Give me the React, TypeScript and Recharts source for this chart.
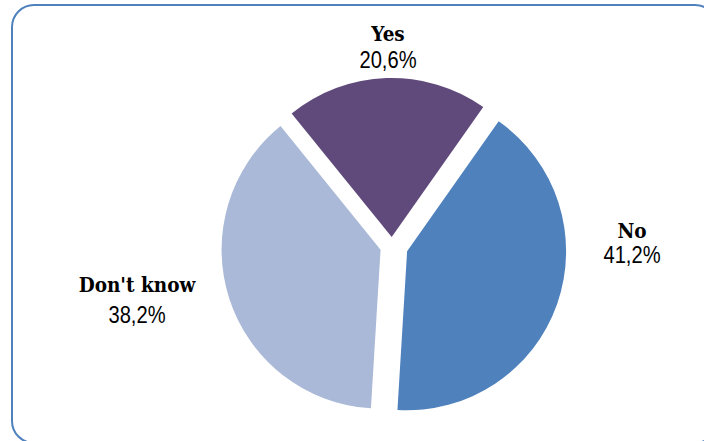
import React from "react";
import { PieChart, Pie, Cell, Sector } from "recharts";

const categories = ["Yes", "No", "Don't know"];
const shares = [20.6, 41.2, 38.2];
const colors = ["#604A7B", "#4F81BD", "#AAB9D7"];

const data = categories.map((name, i) => ({ name, value: shares[i] }));

// layout constants: label anchor relative to pie centre (x offset, name baseline offset, gap to percent line)
const LABEL_LAYOUT = [
  { dx: -4, dy: -205, gap: 27 },
  { dx: 240, dy: -8, gap: 25 },
  { dx: -255, dy: 46, gap: 31 },
];
// explosion distance per slice (px, along the slice bisector)
const EXPLODE = [9, 16, 12];
const RAD = Math.PI / 180;

const ExplodedSector = (props: any) => {
  const { cx, cy, midAngle, innerRadius, outerRadius, startAngle, endAngle, fill, index } = props;
  const e = EXPLODE[index ?? 0] ?? 12;
  const dx = e * Math.cos(-midAngle * RAD);
  const dy = e * Math.sin(-midAngle * RAD);
  return (
    <Sector
      cx={cx + dx}
      cy={cy + dy}
      innerRadius={innerRadius}
      outerRadius={outerRadius}
      startAngle={startAngle}
      endAngle={endAngle}
      fill={fill}
      stroke="none"
    />
  );
};

const renderLabel = (props: any) => {
  const { cx, cy, index, percent, name } = props;
  const lay = LABEL_LAYOUT[index];
  const x = cx + lay.dx;
  const y = cy + lay.dy;
  const pct = (percent * 100).toFixed(1).replace(".", ",") + "%";
  return (
    <g>
      <text
        x={x}
        y={y}
        textAnchor="middle"
        fill="#000"
        style={{
          fontFamily: "'DejaVu Serif Condensed', 'DejaVu Serif', serif",
          fontStretch: "condensed",
          fontWeight: 700,
          fontSize: 20.5,
        }}
      >
        {name}
      </text>
      <text
        transform={`translate(${x},${y + lay.gap}) scale(0.84,1)`}
        x={0}
        y={0}
        textAnchor="middle"
        fill="#000"
        style={{
          fontFamily: "'Liberation Sans', Arial, sans-serif",
          fontSize: 24,
        }}
      >
        {pct}
      </text>
    </g>
  );
};

export default function App() {
  return (
    <div
      style={{
        position: "absolute",
        left: 0,
        top: 0,
        width: 704,
        height: 441,
        overflow: "hidden",
        background: "#fff",
      }}
    >
      <div
        style={{
          position: "absolute",
          left: 11,
          top: 4,
          width: 707,
          height: 440,
          boxSizing: "border-box",
          border: "2px solid #4F81BD",
          borderRadius: 23,
        }}
      />
      <div style={{ position: "absolute", left: 0, top: 0 }}>
        <PieChart width={704} height={441}>
          <Pie
            data={data}
            dataKey="value"
            nameKey="name"
            cx={387}
            cy={241}
            innerRadius={0}
            outerRadius={159}
            startAngle={129}
            endAngle={-231}
            stroke="none"
            isAnimationActive={false}
            labelLine={false}
            label={renderLabel}
            shape={ExplodedSector}
            inactiveShape={ExplodedSector}
            activeShape={ExplodedSector}
          >
            {data.map((d, i) => (
              <Cell key={d.name} fill={colors[i]} />
            ))}
          </Pie>
        </PieChart>
      </div>
    </div>
  );
}
